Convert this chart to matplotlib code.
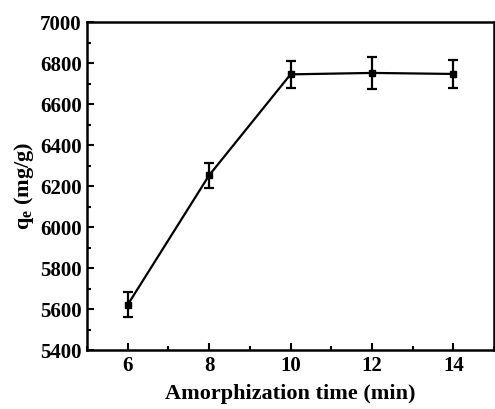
'''Adsorption capacity vs amorphization time.'''

import matplotlib
matplotlib.use('Agg')
import matplotlib.pyplot as plt
from matplotlib.ticker import MultipleLocator

# Data
times=[6, 8, 10, 12, 14]
qe=[5622, 6253, 6745, 6752, 6747]
qe_err=[60, 62, 65, 78, 67]

plt.rcParams['font.family']=['Liberation Serif', 'DejaVu Serif']
plt.rcParams['font.weight']='bold'
plt.rcParams['mathtext.fontset']='custom'
plt.rcParams['mathtext.rm']='Liberation Serif:bold'
plt.rcParams['mathtext.it']='Liberation Serif:bold'

fig=plt.figure(figsize=(4.95, 4.09), dpi=100)
ax=fig.add_axes([0.176, 0.144, 0.822, 0.802])

ax.errorbar(times, qe, yerr=qe_err, color='black', marker='s', markersize=5,
            linewidth=1.6, elinewidth=1.6, capsize=3.5, capthick=1.6)

ax.set_xlim(5, 15)
ax.set_ylim(5400, 7000)
ax.xaxis.set_major_locator(MultipleLocator(2))
ax.xaxis.set_minor_locator(MultipleLocator(1))
ax.yaxis.set_major_locator(MultipleLocator(200))
ax.yaxis.set_minor_locator(MultipleLocator(100))
ax.tick_params(which='both', direction='in', labelsize=15, width=1.5)
ax.tick_params(which='major', length=5, pad=4)
ax.tick_params(which='minor', length=3)
for spine in ax.spines.values():
    spine.set_linewidth(1.8)

ax.set_xlabel('Amorphization time (min)', fontsize=16, fontweight='bold', labelpad=6)
ax.set_ylabel(r'q$_\mathregular{e}$ (mg/g)', fontsize=16, fontweight='bold', labelpad=3)

fig.savefig('out.png', dpi=100)
